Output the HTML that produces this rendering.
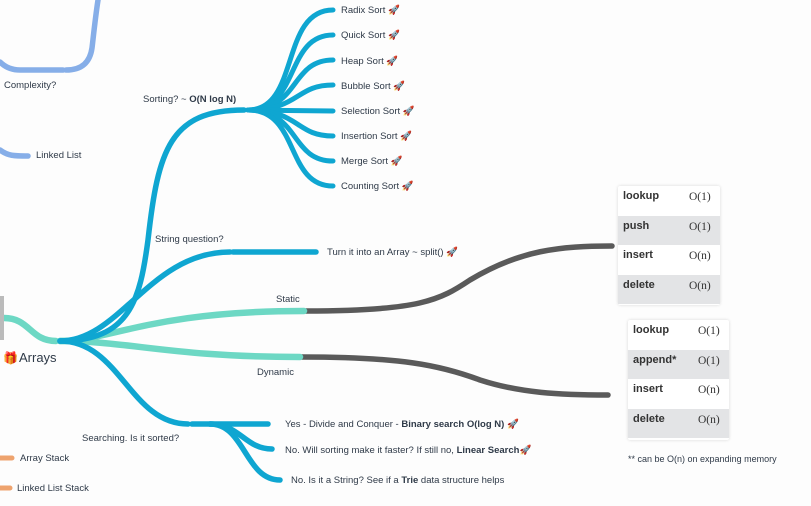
<!DOCTYPE html>
<html><head><meta charset="utf-8"><style>
html,body{margin:0;padding:0;background:#fdfdfd;}
body{width:811px;height:506px;overflow:hidden;position:relative;font-family:"Liberation Sans",sans-serif;}
svg{position:absolute;left:0;top:0}
text{font-family:"Liberation Sans","Noto Sans CJK SC",sans-serif;font-size:9.5px;fill:#2f3a48}
.tb{position:absolute;background:#fff;box-shadow:0 0 3px rgba(0,0,0,.15);border-radius:2px}
.tb div{height:29.5px;position:relative;font-size:11px}
.tb div b{position:absolute;left:5px;top:4px;color:#333}
.tb div span{position:absolute;top:5px;font-family:"Liberation Serif",serif;color:#333;font-size:11.5px}
.tb .g{background:#e3e4e6}
</style></head><body>
<svg width="811" height="506" viewBox="0 0 811 506" fill="none" stroke-linecap="round">
<path d="M98 0 C95 20 93 40 92 48 C90 62 82 70 66 70" stroke="#86aee8" stroke-width="5.5"/>
<path d="M63 70 L20 70 C10 70 4 66 0 62" stroke="#86aee8" stroke-width="5.5"/>
<path d="M0 150 C8 156 14 156 28 156" stroke="#86aee8" stroke-width="5.5"/>
<path d="M306 311 C420 311 440 300 470 280 C520 250 560 246 612 246" stroke="#5a5a5a" stroke-width="5.5"/>
<path d="M302 357 C400 357 440 365 480 380 C520 393 560 395 608 395" stroke="#5a5a5a" stroke-width="5.5"/>
<path d="M4 318 C30 318 30 341 56 341" stroke="#6dd8c4" stroke-width="6.5"/>
<path d="M60 341 C110 341 150 311 304 311" stroke="#6dd8c4" stroke-width="6.5"/>
<path d="M60 341 C130 341 170 357 300 357" stroke="#6dd8c4" stroke-width="6.5"/>
<g stroke="#0fa6d1" stroke-width="5.5">
<path d="M60 341 C130 341 140 300 148 240 C158 150 170 110 244 110"/>
<path d="M60 341 C120 341 150 252 230 252"/>
<path d="M233 252 L316 252"/>
<path d="M60 341 C120 341 130 424 188 424"/>
<path d="M192 424 L268 424"/>
<path d="M210 424 C240 424 245 449 272 449"/>
<path d="M210 424 C245 424 245 480 280 480"/>
<g stroke-width="5">
<path d="M248 110 C300 110 280 10 333 10"/>
<path d="M248 110 C300 110 285 35 333 35"/>
<path d="M248 110 C300 110 290 60 333 60"/>
<path d="M248 110 C300 110 295 85 333 85"/>
<path d="M248 110 L333 111"/>
<path d="M248 110 C300 110 295 136 333 136"/>
<path d="M248 110 C300 110 290 161 333 161"/>
<path d="M248 110 C300 110 285 186 333 186"/>
</g>
</g>
<rect x="0" y="296" width="4" height="44" fill="#bbb"/>
<path d="M0 458 L12 458" stroke="#eea36e" stroke-width="5"/>
<path d="M0 488 L10 488" stroke="#eea36e" stroke-width="5"/>
<text x="4" y="88">Complexity?</text>
<text x="36" y="158">Linked List</text>
<text x="143" y="102">Sorting? ~ <tspan font-weight="bold">O(N log N)</tspan></text>
<text x="341" y="13">Radix Sort 🚀</text>
<text x="341" y="38">Quick Sort 🚀</text>
<text x="341" y="64">Heap Sort 🚀</text>
<text x="341" y="89">Bubble Sort 🚀</text>
<text x="341" y="114">Selection Sort 🚀</text>
<text x="341" y="139">Insertion Sort 🚀</text>
<text x="341" y="164">Merge Sort 🚀</text>
<text x="341" y="189">Counting Sort 🚀</text>
<text x="155" y="242">String question?</text>
<text x="327" y="255">Turn it into an Array ~ split() 🚀</text>
<text x="276" y="302">Static</text>
<text x="257" y="375">Dynamic</text>
<text x="19" y="362" style="font-size:13px">Arrays</text>
<text x="3" y="362" style="font-size:12px">🎁</text>
<text x="82" y="441">Searching. Is it sorted?</text>
<text x="285" y="427">Yes - Divide and Conquer - <tspan font-weight="bold">Binary search O(log N)</tspan> 🚀</text>
<text x="285" y="453">No. Will sorting make it faster? If still no, <tspan font-weight="bold">Linear Search</tspan>🚀</text>
<text x="291" y="483">No. Is it a String? See if a <tspan font-weight="bold">Trie</tspan> data structure helps</text>
<text x="20" y="461">Array Stack</text>
<text x="17" y="491">Linked List Stack</text>
<text x="628" y="462" style="font-size:9px">** can be O(n) on expanding memory</text>
</svg>
<div class="tb" style="left:618px;top:186px;width:102px;height:119px">
<div><b>lookup</b><span style="left:71px">O(1)</span></div>
<div class="g"><b>push</b><span style="left:71px">O(1)</span></div>
<div><b>insert</b><span style="left:71px">O(n)</span></div>
<div class="g"><b>delete</b><span style="left:71px">O(n)</span></div>
</div>
<div class="tb" style="left:628px;top:320px;width:101px;height:120px">
<div><b>lookup</b><span style="left:70px">O(1)</span></div>
<div class="g"><b>append*</b><span style="left:70px">O(1)</span></div>
<div><b>insert</b><span style="left:70px">O(n)</span></div>
<div class="g"><b>delete</b><span style="left:70px">O(n)</span></div>
</div>
</body></html>
